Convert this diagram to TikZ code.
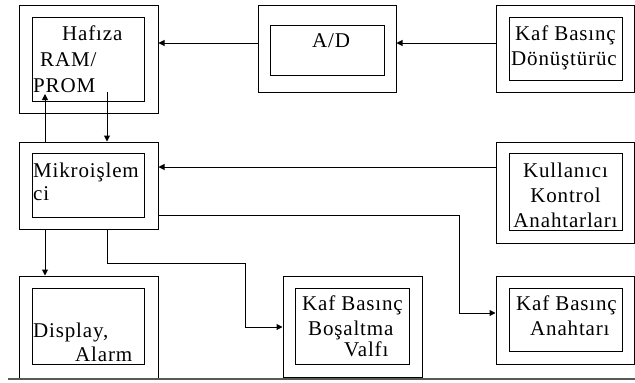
\documentclass[tikz,border=0pt]{standalone}
\usepackage{fontspec}
\setmainfont{Liberation Serif}
\newfontfamily\lblfont[LetterSpace=4]{Liberation Serif}
\usetikzlibrary{arrows.meta}
\begin{document}
\begin{tikzpicture}[x=1pt,y=-1pt,
  outerbox/.style={draw,line width=1pt,minimum width=#1,inner sep=0pt},
  innerbox/.style={draw,line width=1pt,inner sep=0pt},
  lbl/.style={anchor=base west,inner sep=0pt,font=\lblfont\fontsize{21}{24}\selectfont},
  clbl/.style={anchor=base,inner sep=0pt,font=\lblfont\fontsize{21}{24}\selectfont},
  arr/.style={line width=1pt,-{Triangle[length=6pt,width=6pt]}},
  ln/.style={line width=1pt}]
\useasboundingbox (0,0) rectangle (635,383);
% outer boxes
\node[outerbox=139pt,minimum height=108pt] (haf) at (88.5,59) {};
\node[outerbox=138pt,minimum height=87pt] (ad) at (327,48.5) {};
\node[outerbox=138pt,minimum height=87pt] (don) at (565,48.5) {};
\node[outerbox=139pt,minimum height=87pt] (mik) at (88.5,185.5) {};
\node[outerbox=138pt,minimum height=101pt] (kul) at (565,192.5) {};
\node[outerbox=139pt,minimum height=102pt] (dis) at (88.5,327) {};
\node[outerbox=139pt,minimum height=101pt] (bos) at (352.5,326.5) {};
\node[outerbox=138pt,minimum height=88pt] (anh) at (565,320) {};
% inner boxes
\node[innerbox,minimum width=112pt,minimum height=84pt] (hafi) at (88,59) {};
\node[innerbox,minimum width=114pt,minimum height=50pt] (adi) at (327,50) {};
\node[innerbox,minimum width=113pt,minimum height=63pt] (doni) at (565.5,48.5) {};
\node[innerbox,minimum width=112pt,minimum height=64pt] (miki) at (88,185) {};
\node[innerbox,minimum width=113pt,minimum height=77pt] (kuli) at (565.5,191.5) {};
\node[innerbox,minimum width=112pt,minimum height=76pt] (disi) at (88,326) {};
\node[innerbox,minimum width=114pt,minimum height=76pt] (bosi) at (352,326) {};
\node[innerbox,minimum width=113pt,minimum height=63pt] (anhi) at (565.5,319.5) {};
% labels
\node[lbl] (t1) at (62,40) {Hafıza};
\node[lbl] (t2) at (40,66) {RAM/};
\node[lbl] (t3) at (33,92) {PROM};
\node[lbl] (t4) at (312,47) {A/D};
\node[lbl] (t5) at (515,40) {Kaf Basınç};
\node[lbl] (t6) at (511,65) {Dönüştürüc};
\node[lbl] (t7) at (33,177) {Mikroişlem};
\node[lbl] (t8) at (33,200) {ci};
\node[clbl] (t9) at (565.5,177) {Kullanıcı};
\node[clbl] (t10) at (565.5,202) {Kontrol};
\node[clbl] (t11) at (565.5,227) {Anahtarları};
\node[lbl] (t12) at (33,337) {Display,};
\node[lbl] (t13) at (75,361) {Alarm};
\node[lbl] (t14) at (302,310) {Kaf Basınç};
\node[lbl] (t15) at (308,335) {Boşaltma};
\node[lbl] (t16) at (344,356) {Valfı};
\node[lbl] (t17) at (516,310) {Kaf Basınç};
\node[lbl] (t18) at (530,335) {Anahtarı};
% connector helper coordinates
\coordinate (hafend) at (45,94);
\coordinate (hafstart) at (107,92);
\coordinate (k1) at (459,215);
\coordinate (k2) at (459,313);
\coordinate (b1) at (107,263);
\coordinate (b2) at (245,263);
\coordinate (b3) at (245,327);
\coordinate (gl) at (8,379);
\coordinate (gr) at (635,379);
% connectors
\draw[arr] (don.west |- 0,43) -- (ad.east |- 0,43);
\draw[arr] (ad.west |- 0,43) -- (haf.east |- 0,43);
\draw[arr] (mik.north -| hafend) -- (hafend);
\draw[arr] (hafstart) -- (mik.north -| hafstart);
\draw[arr] (kul.west |- 0,167) -- (mik.east |- 0,167);
\draw[arr] (mik.east |- k1) -- (k1) -- (k2) -- (anh.west |- k2);
\draw[arr] (mik.south -| hafend) -- (dis.north -| hafend);
\draw[arr] (mik.south -| b1) -- (b1) -- (b2) -- (b3) -- (bos.west |- b3);
\draw[line width=2pt,black!65] (gl) -- (gr);
\end{tikzpicture}
\end{document}
